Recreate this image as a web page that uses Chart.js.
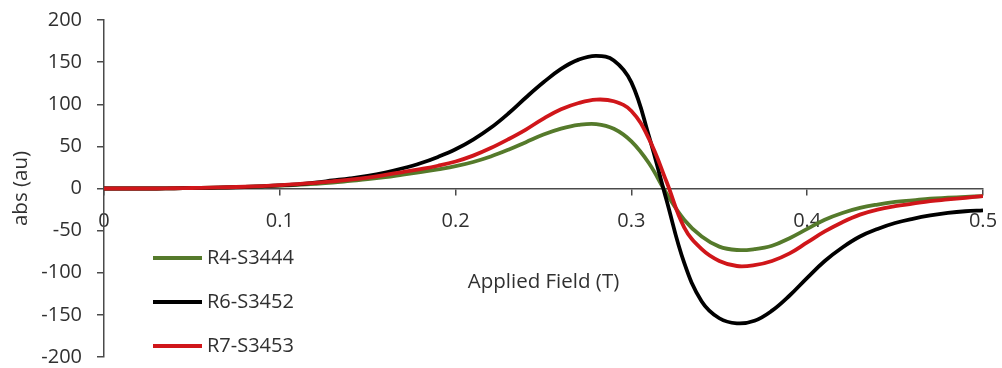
<!DOCTYPE html>
<html>
<head>
<meta charset="utf-8">
<script src="https://cdn.jsdelivr.net/npm/chart.js@4.4.0/dist/chart.umd.min.js"></script>
<style>
html,body{margin:0;padding:0;background:#ffffff;}
#wrap{width:1002px;height:368px;}
</style>
</head>
<body>
<div id="wrap"><canvas id="c" width="1002" height="368"></canvas></div>
<script>
// ---- data ----
const fieldT = [0,0.01,0.02,0.03,0.04,0.05,0.06,0.07,0.08,0.09,
  0.10,0.11,0.12,0.13,0.14,0.15,0.16,0.17,0.18,0.19,
  0.20,0.21,0.22,0.23,0.24,0.25,0.26,0.27,0.28,0.29,
  0.30,0.31,0.32,0.33,0.34,0.35,0.36,0.37,0.38,0.39,
  0.40,0.41,0.42,0.43,0.44,0.45,0.46,0.47,0.48,0.49,0.50];

const seriesNames = ['R4-S3444','R6-S3452','R7-S3453'];

const r4 = [0,0,0,0,0.3,0.5,0.9,1.3,1.8,2.5,
  3.3,4.3,5.5,7,9,11,13.5,16.5,19.5,22.8,
  26.5,31.5,38,46,55,64,71,75.5,76.5,71,
  56,30,-6,-37,-57,-69,-73,-72,-68,-59,
  -48,-37,-29,-23,-19,-16,-14,-12,-11,-10,-9];

const r6 = [0,0,0,0,0.2,0.5,0.8,1.2,1.8,2.6,
  3.6,5,7,9.5,12,15,19,24,30,37.5,
  46.5,58,72,89,108,126,142,153,157.5,152,
  126,62,-14,-88,-134,-154,-160,-157,-145,-127,
  -106,-86,-70,-57,-48,-41,-36,-32,-29,-27,-26];

const r7 = [0,0,0,0,0.3,0.6,1,1.5,2.1,2.9,
  4,5.2,6.8,8.5,10.5,13,16.2,19.5,23,27,
  32,39,48,58.5,70,83,94,101.5,105.5,103.5,
  92,59,8,-46,-72,-86,-92,-91,-86,-77,
  -64,-51,-40,-31,-25,-21,-18,-15,-13,-11,-9];

const xTicks = [0,0.1,0.2,0.3,0.4,0.5];
const xTickLabels = ['0','0.1','0.2','0.3','0.4','0.5'];
const yTicks = [-200,-150,-100,-50,0,50,100,150,200];
const yTickLabels = ['-200','-150','-100','-50','0','50','100','150','200'];

const xTitle = 'Applied Field (T)';
const yTitle = 'abs (au)';

const seriesColors = ['#557A2B','#000000','#D0161A'];
const seriesOrder = [2,1,0];

// ---- build chart ----
const textColor = '#303030';
const axisColor = '#4a4a4a';
const FONT = '"Open Sans", "DejaVu Sans", sans-serif';

const seriesValues = [r4, r6, r7];
const datasets = seriesNames.map((name, i) => ({
  label: name,
  data: fieldT.map((x, k) => ({x: x, y: seriesValues[i][k]})),
  borderColor: seriesColors[i],
  backgroundColor: seriesColors[i],
  borderWidth: 3.8,
  pointRadius: 0,
  fill: false,
  tension: 0.4,
  order: seriesOrder[i]
}));

function zeroPadding(scale) {
  scale.paddingLeft = 0; scale.paddingRight = 0;
  scale.paddingTop = 0; scale.paddingBottom = 0;
}

const sideLegend = {
  id: 'sideLegend',
  afterDraw(chart) {
    const ctx = chart.ctx;
    ctx.save();
    chart.data.datasets.forEach((ds, i) => {
      const y = 258 + i * 44;
      ctx.strokeStyle = ds.borderColor;
      ctx.lineWidth = 4;
      ctx.beginPath();
      ctx.moveTo(153, y);
      ctx.lineTo(202, y);
      ctx.stroke();
      ctx.fillStyle = textColor;
      ctx.font = '20px ' + FONT;
      ctx.textBaseline = 'middle';
      ctx.textAlign = 'left';
      ctx.fillText(ds.label, 207, y);
    });
    ctx.restore();
  }
};

new Chart(document.getElementById('c'), {
  type: 'line',
  data: { datasets: datasets },
  plugins: [sideLegend],
  options: {
    responsive: false,
    animation: false,
    devicePixelRatio: 1,
    layout: { padding: { left: 0, right: 19, top: 20, bottom: 11 } },
    plugins: { legend: { display: false }, tooltip: { enabled: false } },
    scales: {
      x: {
        type: 'linear',
        position: { y: 0 },
        min: 0, max: 0.5,
        afterBuildTicks: s => { s.ticks = xTicks.map(v => ({value: v})); },
        afterFit: zeroPadding,
        grid: { drawOnChartArea: false, drawTicks: true, tickLength: 6, color: axisColor, lineWidth: 1.5 },
        border: { display: true, color: axisColor, width: 1.5 },
        ticks: {
          color: textColor,
          font: { family: FONT, size: 20 },
          padding: 15,
          maxRotation: 0,
          autoSkip: false,
          callback: (v) => { const i = xTicks.findIndex(t => Math.abs(t - v) < 1e-9); return i >= 0 ? xTickLabels[i] : ''; }
        },
        title: {
          display: true, text: xTitle, color: textColor,
          font: { family: FONT, size: 20.5 },
          padding: { top: 21, bottom: 0 }
        }
      },
      y: {
        type: 'linear',
        position: 'left',
        min: -200, max: 200,
        afterBuildTicks: s => { s.ticks = yTicks.map(v => ({value: v})); },
        afterFit: s => { zeroPadding(s); s.width = 104; },
        grid: { drawOnChartArea: false, drawTicks: true, tickLength: 7, color: axisColor, lineWidth: 1.5 },
        border: { display: true, color: axisColor, width: 1.5 },
        ticks: {
          color: textColor,
          font: { family: FONT, size: 20, lineHeight: 1 },
          padding: 15,
          autoSkip: false,
          callback: (v) => { const i = yTicks.indexOf(v); return i >= 0 ? yTickLabels[i] : ''; }
        },
        title: {
          display: true, text: yTitle, color: textColor,
          font: { family: FONT, size: 20.5 },
          padding: { top: 9, bottom: 0 }
        }
      }
    }
  }
});
</script>
</body>
</html>
